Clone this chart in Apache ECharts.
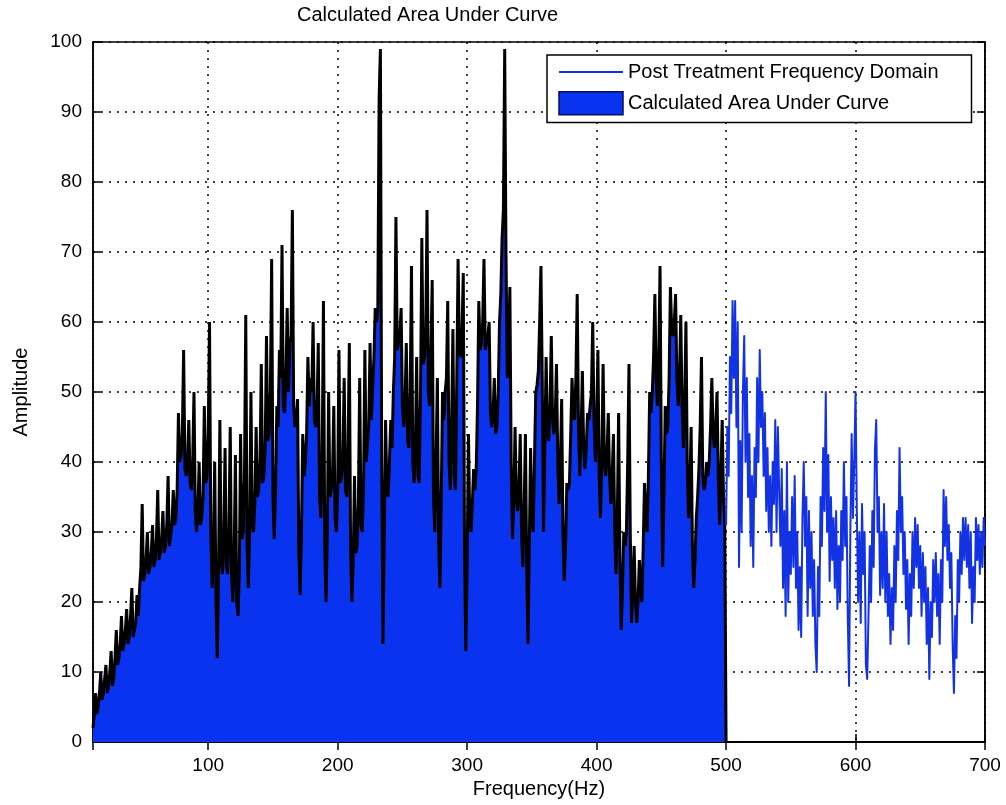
<!DOCTYPE html>
<html>
<head>
<meta charset="utf-8">
<title>Calculated Area Under Curve</title>
<script src="https://cdn.jsdelivr.net/npm/echarts@6.0.0/dist/echarts.min.js"></script>
<style>
    html, body { margin: 0; padding: 0; background: #fff; }
    #chart { width: 1006px; height: 805px; }
</style>
</head>
<body>
<div id="chart"></div>
<script>

var chartTitle = 'Calculated Area Under Curve';
var lineName = 'Post Treatment Frequency Domain';
var areaName = 'Calculated Area Under Curve';

// area part: 11 Hz .. 499 Hz, every 1 Hz (one row = 20 Hz)
var areaStart = 11;
var areaStep = 1;
var areaCutoff = 500;
var areaValues = [
    2, 4, 7, 4, 5, 7, 10, 6, 7, 9, 11, 7, 8, 10, 13, 8, 9, 12, 16, 11,
    12, 14, 18, 13, 14, 16, 19, 14, 15, 18, 22, 15, 16, 17, 21, 18, 22, 25, 34, 23,
    24, 26, 30, 24, 25, 27, 31, 25, 26, 29, 36, 26, 27, 29, 33, 27, 28, 31, 38, 28,
    28, 31, 36, 31, 32, 36, 47, 40, 41, 44, 56, 39, 38, 40, 46, 37, 36, 40, 50, 33,
    30, 33, 40, 31, 32, 35, 48, 37, 38, 44, 60, 30, 22, 27, 40, 20, 12, 25, 46, 26,
    24, 29, 42, 25, 24, 30, 45, 24, 20, 26, 41, 20, 18, 24, 44, 29, 30, 38, 61, 28,
    22, 30, 50, 31, 30, 34, 45, 35, 36, 40, 54, 37, 38, 42, 58, 43, 44, 50, 69, 35,
    29, 36, 48, 45, 56, 52, 71, 48, 47, 52, 62, 50, 57, 58, 76, 48, 45, 46, 49, 27,
    21, 30, 44, 38, 40, 44, 55, 48, 52, 50, 60, 46, 45, 47, 57, 35, 32, 40, 63, 28,
    20, 30, 50, 35, 36, 38, 48, 32, 30, 36, 56, 37, 38, 40, 52, 36, 35, 42, 57, 27,
    20, 26, 38, 27, 28, 34, 52, 31, 30, 37, 56, 40, 40, 45, 57, 46, 46, 55, 62, 60,
    62, 92, 99, 40, 14, 30, 46, 36, 35, 40, 46, 42, 50, 55, 75, 56, 57, 58, 62, 48,
    45, 48, 57, 43, 42, 50, 68, 40, 37, 42, 55, 38, 37, 50, 72, 54, 55, 58, 76, 50,
    48, 55, 66, 35, 30, 40, 52, 28, 22, 35, 50, 46, 50, 52, 63, 40, 36, 45, 59, 38,
    36, 52, 69, 56, 55, 58, 67, 27, 13, 25, 44, 32, 30, 34, 39, 36, 39, 48, 63, 56,
    57, 60, 69, 56, 57, 58, 60, 47, 45, 47, 52, 44, 45, 50, 60, 64, 72, 76, 99, 70,
    52, 55, 65, 40, 29, 34, 45, 35, 33, 36, 44, 30, 25, 33, 44, 25, 14, 28, 42, 32,
    30, 40, 50, 51, 53, 60, 68, 52, 30, 42, 55, 44, 43, 48, 58, 46, 44, 46, 54, 40,
    34, 40, 49, 30, 23, 28, 37, 36, 37, 44, 52, 47, 46, 52, 64, 45, 38, 44, 53, 42,
    39, 42, 47, 46, 46, 50, 60, 46, 40, 45, 56, 38, 32, 40, 54, 40, 38, 41, 47, 38,
    34, 38, 44, 30, 24, 32, 47, 26, 16, 22, 30, 28, 30, 40, 54, 30, 17, 22, 28, 20,
    17, 20, 26, 22, 20, 28, 37, 32, 30, 38, 50, 47, 50, 55, 64, 52, 48, 55, 68, 40,
    25, 35, 48, 44, 45, 52, 65, 59, 58, 60, 64, 52, 48, 52, 61, 48, 42, 48, 60, 40,
    32, 36, 45, 28, 22, 26, 32, 35, 39, 45, 55, 38, 36, 37, 40, 38, 40, 45, 52, 44,
    42, 45, 50, 38, 31, 38, 46, 35, 31
];

// line part: 500 Hz .. 700 Hz, every 1 Hz
var lineStart = 500;
var lineStep = 1;
var lineValues = [
    31, 45, 38, 55, 47, 63, 52, 63, 45, 60, 25,
    43, 30, 50, 58, 40, 52, 35, 44, 28, 38,
    25, 42, 35, 52, 40, 56, 45, 50, 38, 47,
    33, 42, 30, 38, 28, 40, 34, 46, 30, 45,
    36, 28, 39, 22, 33, 18, 40, 20, 30, 24,
    35, 25, 38, 22, 30, 16, 25, 15, 32, 40,
    28, 35, 18, 33, 22, 30, 18, 26, 14, 10,
    25, 18, 35, 28, 42, 33, 50, 30, 41, 23,
    35, 26, 32, 22, 33, 19, 28, 20, 33, 26,
    40, 28, 35, 18, 8, 30, 44, 32, 40, 50,
    33, 20, 30, 17, 34, 24, 30, 11, 9, 18,
    28, 20, 33, 25, 42, 46, 30, 35, 21, 30,
    22, 34, 20, 30, 18, 24, 14, 22, 16, 28,
    20, 33, 26, 42, 30, 35, 24, 30, 19, 26,
    14, 24, 18, 30, 22, 32, 25, 31, 22, 28,
    18, 27, 20, 25, 14, 22, 9, 20, 15, 26,
    20, 27, 18, 24, 14, 26, 20, 36, 28, 35,
    26, 31, 22, 27, 14, 7, 18, 12, 26, 20,
    30, 24, 32, 26, 32, 25, 31, 22, 30, 17,
    25, 20, 32, 26, 31, 24, 30, 25, 32, 28
];

function toPairs(start, step, values) {
    var out = [];
    for (var i = 0; i < values.length; i++) {
        out.push([start + i * step, values[i]]);
    }
    return out;
}

var areaData = toPairs(areaStart, areaStep, areaValues);
areaData.push([areaCutoff, 0]);
var lineData = toPairs(lineStart, lineStep, lineValues);

var font = "'Liberation Sans', Arial, sans-serif";
var blueFill = '#0a33f0';
var blueLine = '#1232e4';

var chart = echarts.init(document.getElementById('chart'), null, {renderer: 'canvas'});

var dots = {color: '#000', width: 1.5, type: [2, 6]};

var option = {
    animation: false,
    backgroundColor: '#fff',
    title: {
        text: chartTitle,
        left: 297,
        top: 5,
        padding: 0,
        textStyle: {fontFamily: font, fontSize: 20, fontWeight: 'normal', color: '#000'}
    },
    legend: {
        orient: 'vertical',
        left: 547,
        top: 55,
        padding: [7, 33, 7, 11],
        itemGap: 9,
        itemWidth: 64,
        itemHeight: 23,
        backgroundColor: '#fff',
        borderColor: '#000',
        borderWidth: 1.5,
        selectedMode: false,
        textStyle: {fontFamily: font, fontSize: 20, color: '#000'},
        data: [
            {name: lineName, itemStyle: {color: 'transparent', borderColor: 'transparent', borderWidth: 0}},
            {name: areaName, icon: 'rect', itemStyle: {color: blueFill, borderColor: '#00105a', borderWidth: 1.5}}
        ]
    },
    grid: {
        left: 93,
        right: 21,
        top: 42,
        bottom: 63,
        show: true,
        borderColor: '#000',
        borderWidth: 1.5
    },
    xAxis: [
        {
            type: 'value',
            min: 11,
            max: 700,
            splitNumber: 7,
            name: 'Frequency(Hz)',
            nameLocation: 'middle',
            nameGap: 35,
            nameTextStyle: {fontFamily: font, fontSize: 20, color: '#000'},
            axisLine: {show: true, lineStyle: {color: '#000', width: 1.5}},
            axisTick: {show: true, inside: true, length: 8, lineStyle: {color: '#000', width: 1.5}},
            axisLabel: {showMinLabel: false, margin: 14, fontFamily: font, fontSize: 19, color: '#000'},
            splitLine: {show: true, lineStyle: dots}
        },
        {
            type: 'value',
            position: 'top',
            min: 11,
            max: 700,
            splitNumber: 7,
            axisLine: {show: true, lineStyle: {color: '#000', width: 1.5}},
            axisTick: {show: true, inside: true, length: 8, lineStyle: {color: '#000', width: 1.5}},
            axisLabel: {show: false},
            splitLine: {show: false}
        }
    ],
    yAxis: [
        {
            type: 'value',
            min: 0,
            max: 100,
            interval: 10,
            name: 'Amplitude',
            nameLocation: 'middle',
            nameGap: 62,
            nameRotate: 90,
            nameTextStyle: {fontFamily: font, fontSize: 20, color: '#000'},
            axisLine: {show: true, lineStyle: {color: '#000', width: 1.5}},
            axisTick: {show: true, inside: true, length: 8, lineStyle: {color: '#000', width: 1.5}},
            axisLabel: {margin: 11, fontFamily: font, fontSize: 19, color: '#000'},
            splitLine: {show: true, lineStyle: dots}
        },
        {
            type: 'value',
            position: 'right',
            min: 0,
            max: 100,
            interval: 10,
            axisLine: {show: true, lineStyle: {color: '#000', width: 1.5}},
            axisTick: {show: true, inside: true, length: 8, lineStyle: {color: '#000', width: 1.5}},
            axisLabel: {show: false},
            splitLine: {show: false}
        }
    ],
    series: [
        {
            name: lineName,
            type: 'line',
            xAxisIndex: 0,
            yAxisIndex: 0,
            data: lineData,
            symbol: 'none',
            smooth: false,
            lineStyle: {color: blueLine, width: 2, join: 'round'},
            itemStyle: {color: blueLine},
            z: 3
        },
        {
            name: areaName,
            type: 'line',
            xAxisIndex: 0,
            yAxisIndex: 0,
            data: areaData,
            symbol: 'none',
            smooth: false,
            sampling: null,
            lineStyle: {color: '#000', width: 3, join: 'bevel'},
            areaStyle: {color: blueFill, opacity: 1},
            itemStyle: {color: blueFill},
            z: 2
        }
    ]
};

chart.setOption(option);

</script>
</body>
</html>
